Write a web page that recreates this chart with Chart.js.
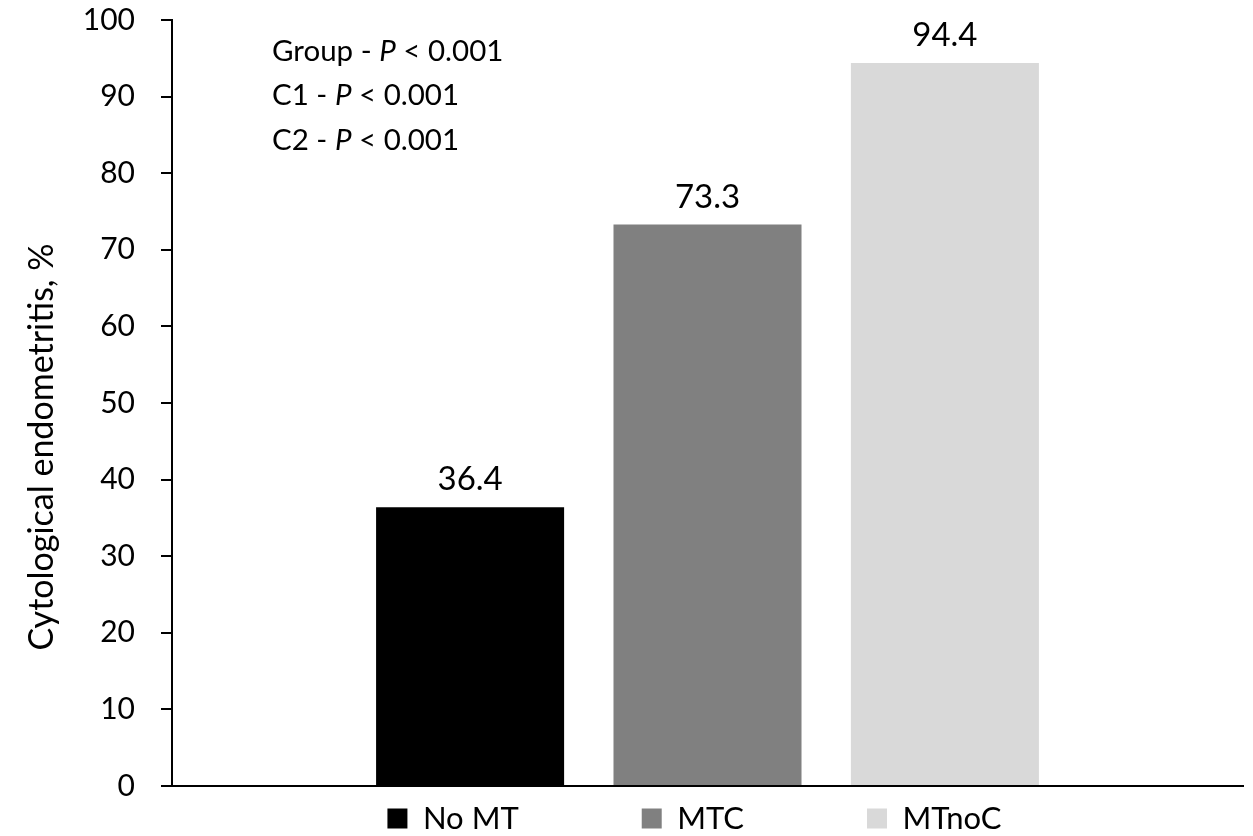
<!DOCTYPE html>
<html>
<head>
<meta charset="utf-8">
<script src="https://cdn.jsdelivr.net/npm/chart.js@4"></script>
<style>
  html, body { margin: 0; padding: 0; background: #fff; }
  #wrap { width: 1253px; height: 836px; }
</style>
</head>
<body>
<div id="wrap"><canvas id="chart" width="1253" height="836"></canvas></div>
<script>
// data
var groups = ['No MT', 'MTC', 'MTnoC'];
var values = [36.4, 73.3, 94.4];
var colors = ['#000000', '#808080', '#d9d9d9'];
var statLines = [['Group - ', 'P', ' < 0.001'], ['C1 - ', 'P', ' < 0.001'], ['C2 - ', 'P', ' < 0.001']];
var yTitle = 'Cytological endometritis, %';

var FONT = 'Lato, "Open Sans", sans-serif';

// value labels above bars
var barLabels = {
    id: 'barLabels',
    afterDatasetsDraw: function(chart) {
        var ctx = chart.ctx;
        ctx.save();
        ctx.font = '33px ' + FONT;
        ctx.fillStyle = '#000';
        ctx.textAlign = 'center';
        ctx.textBaseline = 'alphabetic';
        chart.data.datasets.forEach(function(ds, i) {
            var bar = chart.getDatasetMeta(i).data[0];
            ctx.fillText(ds.data[0].toFixed(1), bar.x, bar.y - 17);
        });
        ctx.restore();
    }
};

// stats text in top-left of plot
var statsText = {
    id: 'statsText',
    afterDraw: function(chart) {
        var ctx = chart.ctx;
        var x0 = chart.chartArea.left + 100;
        var y0 = chart.chartArea.top + 31;
        ctx.save();
        ctx.fillStyle = '#000';
        ctx.textBaseline = 'middle';
        statLines.forEach(function(parts, i) {
            var x = x0;
            var y = y0 + i * 44.5;
            parts.forEach(function(p, j) {
                ctx.font = (j === 1 ? 'italic ' : '') + '29.5px ' + FONT;
                ctx.fillText(p, x, y);
                x += ctx.measureText(p).width;
            });
        });
        ctx.restore();
    }
};

// legend: keep wide spacing between items but a short box; move y title a bit down
var layoutTweaks = {
    id: 'layoutTweaks',
    beforeLayout: function(chart) {
        var lg = chart.legend;
        if (lg && !lg._tweaked) {
            lg._tweaked = true;
            var fit = lg.fit, draw = lg.draw;
            lg.fit = function() { fit.call(this); this.height = 42; };
            lg.draw = function() {
                var t = this.top, l = this.left, r = this.right;
                var pad = this.options.labels.padding;
                this.top = chart.chartArea.bottom + 17 - pad;
                this.left = l + 62; this.right = r + 62;
                draw.call(this);
                this.top = t; this.left = l; this.right = r;
            };
        }
    },
    afterLayout: function(chart) {
        var s = chart.scales.y;
        if (s && !s._tweaked) {
            s._tweaked = true;
            var dt = s.drawTitle;
            s.drawTitle = function() {
                this.top += 44; this.bottom += 44;
                dt.apply(this, arguments);
                this.top -= 44; this.bottom -= 44;
            };
        }
    }
};

var datasets = groups.map(function(g, i) {
    return {
        label: g,
        data: [values[i]],
        backgroundColor: colors[i],
        borderWidth: 0,
        categoryPercentage: 0.665,
        barPercentage: 0.792
    };
});

var ctx = document.getElementById('chart').getContext('2d');
new Chart(ctx, {
    type: 'bar',
    data: {
        labels: [''],
        datasets: datasets
    },
    options: {
        responsive: false,
        animation: false,
        layout: {
            padding: { left: 22, right: 10, top: 0, bottom: 0 }
        },
        plugins: {
            legend: {
                position: 'bottom',
                labels: {
                    font: { family: FONT, size: 31 },
                    color: '#000',
                    boxWidth: 20,
                    boxHeight: 20,
                    padding: 123
                }
            },
            tooltip: { enabled: false }
        },
        scales: {
            x: {
                ticks: { display: false },
                grid: { display: false },
                border: { display: true, color: '#000', width: 2 }
            },
            y: {
                min: 0,
                max: 100,
                afterFit: function(scale) {
                    scale.paddingTop = 20;
                    scale.width = 150;
                },
                ticks: {
                    stepSize: 10,
                    color: '#000',
                    font: { family: FONT, size: 30 },
                    padding: 26
                },
                grid: {
                    drawOnChartArea: false,
                    drawTicks: true,
                    tickLength: 11,
                    color: '#000',
                    lineWidth: 2
                },
                border: { display: true, color: '#000', width: 2 },
                title: {
                    display: true,
                    text: yTitle,
                    color: '#000',
                    font: { family: FONT, size: 34 },
                    padding: { top: 0, bottom: 0 }
                }
            }
        }
    },
    plugins: [barLabels, statsText, layoutTweaks]
});
</script>
</body>
</html>
